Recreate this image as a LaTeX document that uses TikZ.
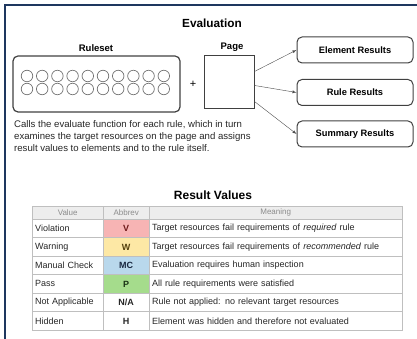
\documentclass[tikz,border=0pt]{standalone}
\usepackage{fontspec}
\setmainfont{Liberation Sans}
\definecolor{frameblue}{RGB}{30,55,95}
\definecolor{violpink}{RGB}{247,180,180}
\definecolor{warnyellow}{RGB}{253,232,165}
\definecolor{checkblue}{RGB}{185,216,236}
\definecolor{passgreen}{RGB}{165,220,140}
\tikzset{
  result box/.style={
    rounded corners=5pt,
    draw=black!75,
    line width=1pt,
    minimum width=116pt,
    minimum height=26pt,
    font=\bfseries\fontsize{9.3}{11}\selectfont,
  },
  rule dot/.style={circle, draw=black!55, line width=0.7pt, minimum size=11.5pt, inner sep=0pt},
  cell/.style={
    draw=black!25,
    anchor=north west,
    minimum height=18.5pt,
    inner xsep=3pt, inner ysep=0pt,
    font=\fontsize{9}{10}\selectfont,
    text=black!85,
  },
  value cell/.style={cell, text width=65pt, align=left},
  abbrev cell/.style={cell, minimum width=46pt, align=center, font=\bfseries\fontsize{9}{10}\selectfont},
  meaning cell/.style={cell, text width=247pt, align=left},
  head cell/.style={cell, minimum height=13pt, fill=black!7, text=black!45, font=\fontsize{8}{9}\selectfont},
}
\begin{document}
\begin{tikzpicture}[x=1pt, y=1pt]
      \useasboundingbox (0,0) rectangle (417,339);
      \draw[line width=2.2pt, frameblue] (417,334) -- (5,334) -- (5,0);

      \node[font=\bfseries\fontsize{11.8}{14}\selectfont] (title) at (212,316) {Evaluation};

      \node[font=\bfseries\fontsize{9.5}{11}\selectfont] (rslabel) at (96,291) {Ruleset};
      \node[draw=black!75, line width=1.2pt, rounded corners=5pt, minimum width=167pt, minimum height=56pt] (rs) at (96.5,255) {};
      \foreach \i in {0,...,9} {
        \node[rule dot] (ra\i) at (27+15.2*\i,263) {};
        \node[rule dot] (rb\i) at (27+15.2*\i,250) {};
      }
      \node[font=\fontsize{11}{13}\selectfont] (plus) at (193,255) {+};

      \node[font=\bfseries\fontsize{9.5}{11}\selectfont] (pglabel) at (232,292) {Page};
      \node[draw=black!75, line width=1pt, minimum width=50pt, minimum height=53pt] (pg) at (229,256.5) {};

      \node[result box] (er) at (355,289)   {Element Results};
      \node[result box] (rr) at (355,246.5) {Rule Results};
      \node[result box] (sr) at (355,205)   {Summary Results};

      \draw[-latex, black!70] ([yshift=11pt]pg.east)  -- (er.west);
      \draw[-latex, black!70] ([yshift=-3pt]pg.east)  -- (rr.west);
      \draw[-latex, black!70] ([yshift=-19pt]pg.east) -- (sr.west);

      \node[anchor=north west, inner sep=0pt, align=left, text=black!85,
            font=\fontsize{9.6}{12.3}\selectfont] (desc) at (14,219)
        {Calls the evaluate function for each rule, which in turn\\
         examines the target resources on the page and assigns\\
         result values to elements and to the rule itself.};

      % result values table
      \node[font=\bfseries\fontsize{12}{14}\selectfont] (rvtitle) at (213,144) {Result Values};

      \node[value cell, head cell, align=center] (hval)  at (32,133)  {Value};
      \node[abbrev cell, head cell]              (habr)  at (103,133) {Abbrev};
      \node[meaning cell, head cell, align=center] (hmean) at (149,133) {Meaning};

      \node[value cell]                 (val1) at (32,120)  {Violation};
      \node[abbrev cell, fill=violpink, text={rgb,255:red,110;green,25;blue,25}] (abr1) at (103,120) {V};
      \node[meaning cell]               (mean1) at (149,120) {Target resources fail requirements of \textit{required} rule};

      \node[value cell]                 (val2) at (32,101.5)  {Warning};
      \node[abbrev cell, fill=warnyellow, text={rgb,255:red,85;green,65;blue,15}] (abr2) at (103,101.5) {W};
      \node[meaning cell]               (mean2) at (149,101.5) {Target resources fail requirements of \textit{recommended} rule};

      \node[value cell]                 (val3) at (32,83)  {Manual Check};
      \node[abbrev cell, fill=checkblue, text={rgb,255:red,25;green,40;blue,65}] (abr3) at (103,83) {MC};
      \node[meaning cell]               (mean3) at (149,83) {Evaluation requires human inspection};

      \node[value cell]                 (val4) at (32,64.5)  {Pass};
      \node[abbrev cell, fill=passgreen, text={rgb,255:red,25;green,50;blue,20}] (abr4) at (103,64.5) {P};
      \node[meaning cell]               (mean4) at (149,64.5) {All rule requirements were satisfied};

      \node[value cell]                 (val5) at (32,46)  {Not Applicable};
      \node[abbrev cell]                (abr5) at (103,46) {N/A};
      \node[meaning cell]               (mean5) at (149,46) {Rule not applied: no relevant target resources};

      \node[value cell]                 (val6) at (32,27.5)  {Hidden};
      \node[abbrev cell]                (abr6) at (103,27.5) {H};
      \node[meaning cell]               (mean6) at (149,27.5) {Element was hidden and therefore not evaluated};
\end{tikzpicture}
\end{document}
